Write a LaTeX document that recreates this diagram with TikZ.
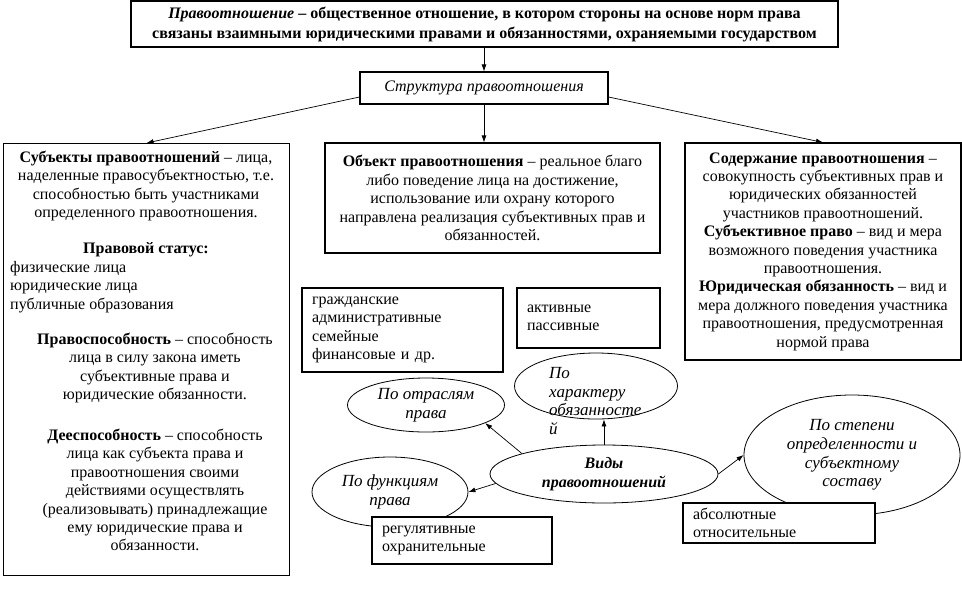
\documentclass[tikz,border=0pt]{standalone}
\usepackage{fontspec}
\setmainfont{Liberation Serif}
\usetikzlibrary{shapes.geometric,arrows.meta}

\begin{document}
\begin{tikzpicture}[x=1pt, y=-1pt, >={Latex[length=7pt,width=5pt]},
        box/.style={draw, line width=1.1pt, fill=white, inner sep=0pt, align=center,
            font=\fontsize{16}{18.4}\selectfont},
        lst/.style={draw, line width=1.1pt, fill=white, inner xsep=10pt, inner ysep=0pt,
            align=left, font=\fontsize{16}{18.4}\selectfont},
        oval/.style={draw, ellipse, line width=0.8pt, fill=white, inner sep=0pt, align=center,
            font=\fontsize{17}{18.6}\selectfont\itshape},
        txt/.style={inner sep=0pt, align=center, font=\fontsize{16}{18.4}\selectfont},
        link/.style={->, line width=0.7pt}]
    \useasboundingbox[fill=white] (0,0) rectangle (962,590);

    % ===== definition and structure =====
    \node[box, minimum width=707, minimum height=46, font=\fontsize{16}{20}\selectfont\bfseries] (def) at (484.5,24)
        {\textit{Правоотношение} – общественное отношение, в котором стороны на основе норм права\\
         связаны взаимными юридическими правами и обязанностями, охраняемыми государством};
    \node[box, minimum width=248, minimum height=32, font=\fontsize{16}{18}\selectfont\itshape] (struct) at (484,88)
        {Структура правоотношения};

    % ===== subjects =====
    \node[box, minimum width=286, minimum height=432, anchor=north west] (subj) at (3,143) {};
    \node[txt] (subjdef) at (146,186)
        {\textbf{Субъекты правоотношений} –  лица,\\ наделенные правосубъектностью, т.е.\\
         способностью быть участниками\\ определенного правоотношения.};
    \node[txt] (status) at (146,250) {\textbf{Правовой статус:}};
    \node[txt, anchor=west, align=left] (statuslist) at (10,287)
        {физические лица\\ юридические лица\\ публичные образования};
    \node[txt] (capacity) at (155,368)
        {\textbf{Правоспособность} – способность\\ лица в силу закона  иметь\\
         субъективные права и\\ юридические обязанности.};
    \node[txt] (agency) at (155,490)
        {\textbf{Дееспособность} – способность\\ лица как субъекта права и\\ правоотношения своими\\
         действиями осуществлять\\ (реализовывать) принадлежащие\\ ему юридические права и\\ обязанности.};

    % ===== object =====
    \node[box, minimum width=335, minimum height=110] (obj) at (492.5,198)
        {\textbf{Объект правоотношения} –  реальное благо\\ либо поведение лица на достижение,\\
         использование или охрану которого\\ направлена реализация субъективных прав и\\ обязанностей.};

    % ===== content =====
    \node[box, minimum width=276, minimum height=217] (cont) at (823,251.5)
        {\textbf{Содержание правоотношения} –\\ совокупность субъективных прав и\\ юридических обязанностей\\
         участников правоотношений.\\ \textbf{Субъективное право} – вид и мера\\ возможного  поведения участника\\
         правоотношения.\\ \textbf{Юридическая обязанность} – вид и\\ мера должного поведения участника\\
         правоотношения, предусмотренная\\ нормой права};

    \draw[link] (def.south -| struct.north) -- (struct.north);
    \draw[link] ([yshift=-9pt]struct.west) -- (subj.north);
    \draw[link] (struct.south) -- (struct.south |- obj.north);
    \draw[link] ([yshift=-9pt]struct.east) -- (cont.north);

    % ===== kinds =====
    \node[oval, minimum width=157, minimum height=54] (branch) at (426,405) {По отраслям\\ права};
    \node[oval, minimum width=163, minimum height=66] (duty) at (596,386) {};
    \node[txt, anchor=west, align=left, font=\fontsize{17}{18.4}\selectfont\itshape] (dutytxt) at (549,401)
        {По\\ характеру\\ обязанносте\\ й};
    \node[oval, minimum width=156, minimum height=70] (func) at (390,492) {По функциям\\ права};
    \node[oval, minimum width=216, minimum height=120] (degree) at (852,455)
        {По степени\\ определенности и\\ субъектному\\ составу};
    \node[oval, minimum width=228, minimum height=58, font=\fontsize{16}{18.4}\selectfont\bfseries\itshape] (kinds) at (604,474)
        {Виды\\ правоотношений};

    \node[lst, text width=181, minimum height=84] (branchlist) at (402.5,330)
        {гражданские\\ административные\\ семейные\\ финансовые и др.};
    \node[lst, text width=123, minimum height=60] (dutylist) at (588.5,318) {активные\\ пассивные};
    \node[lst, text width=160, minimum height=47] (funclist) at (462,540.5) {регулятивные\\ охранительные};
    \node[lst, text width=172, minimum height=40] (degreelist) at (779,523) {абсолютные\\ относительные};

    \draw[link] (kinds.166) -- (branch.-17);
    \draw[link] (kinds.north) -- (kinds.north |- duty.south);
    \draw[link] (kinds.185) -- (func.east);
    \draw[link] (kinds.east) -- (degree.west);
\end{tikzpicture}
\end{document}
